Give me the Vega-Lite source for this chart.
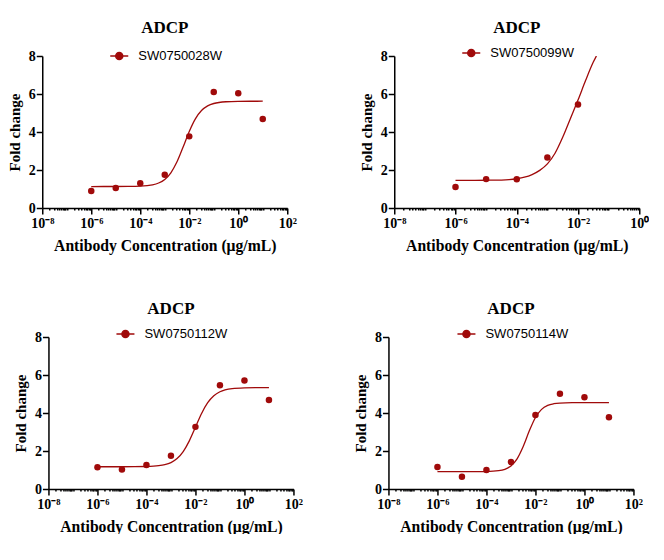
{
  "$schema": "https://vega.github.io/schema/vega-lite/v6.json",
  "description": "ADCP dose-response curves, four antibodies",
  "background": "white",
  "padding": {"left": 7, "top": 19, "right": 0, "bottom": 0},
  "datasets": {
    "pts": [
      {"p": 1, "s": "SW0750028W", "conc": 1e-6, "fold": 0.89},
      {"p": 1, "s": "SW0750028W", "conc": 1e-5, "fold": 1.05},
      {"p": 1, "s": "SW0750028W", "conc": 1e-4, "fold": 1.30},
      {"p": 1, "s": "SW0750028W", "conc": 1e-3, "fold": 1.75},
      {"p": 1, "s": "SW0750028W", "conc": 1e-2, "fold": 3.77},
      {"p": 1, "s": "SW0750028W", "conc": 0.1, "fold": 6.11},
      {"p": 1, "s": "SW0750028W", "conc": 1, "fold": 6.04},
      {"p": 1, "s": "SW0750028W", "conc": 10, "fold": 4.68},
      {"p": 2, "s": "SW0750099W", "conc": 1e-6, "fold": 1.10},
      {"p": 2, "s": "SW0750099W", "conc": 1e-5, "fold": 1.52},
      {"p": 2, "s": "SW0750099W", "conc": 1e-4, "fold": 1.51},
      {"p": 2, "s": "SW0750099W", "conc": 1e-3, "fold": 2.66},
      {"p": 2, "s": "SW0750099W", "conc": 1e-2, "fold": 5.45},
      {"p": 3, "s": "SW0750112W", "conc": 1e-6, "fold": 1.14},
      {"p": 3, "s": "SW0750112W", "conc": 1e-5, "fold": 1.03},
      {"p": 3, "s": "SW0750112W", "conc": 1e-4, "fold": 1.26},
      {"p": 3, "s": "SW0750112W", "conc": 1e-3, "fold": 1.75},
      {"p": 3, "s": "SW0750112W", "conc": 1e-2, "fold": 3.27},
      {"p": 3, "s": "SW0750112W", "conc": 0.1, "fold": 5.46},
      {"p": 3, "s": "SW0750112W", "conc": 1, "fold": 5.71},
      {"p": 3, "s": "SW0750112W", "conc": 10, "fold": 4.69},
      {"p": 4, "s": "SW0750114W", "conc": 1e-6, "fold": 1.16},
      {"p": 4, "s": "SW0750114W", "conc": 1e-5, "fold": 0.65},
      {"p": 4, "s": "SW0750114W", "conc": 1e-4, "fold": 1.00},
      {"p": 4, "s": "SW0750114W", "conc": 1e-3, "fold": 1.42},
      {"p": 4, "s": "SW0750114W", "conc": 1e-2, "fold": 3.89},
      {"p": 4, "s": "SW0750114W", "conc": 0.1, "fold": 5.01},
      {"p": 4, "s": "SW0750114W", "conc": 1, "fold": 4.83},
      {"p": 4, "s": "SW0750114W", "conc": 10, "fold": 3.78}
    ],
    "fit": [
      {"p": 1, "conc": 1e-6, "fold": 1.13},
      {"p": 1, "conc": 1e-5, "fold": 1.131},
      {"p": 1, "conc": 3.162e-5, "fold": 1.135},
      {"p": 1, "conc": 1e-4, "fold": 1.15},
      {"p": 1, "conc": 3.162e-4, "fold": 1.22},
      {"p": 1, "conc": 5.623e-4, "fold": 1.316},
      {"p": 1, "conc": 1e-3, "fold": 1.505},
      {"p": 1, "conc": 1.778e-3, "fold": 1.855},
      {"p": 1, "conc": 3.162e-3, "fold": 2.43},
      {"p": 1, "conc": 5.623e-3, "fold": 3.208},
      {"p": 1, "conc": 1e-2, "fold": 4.027},
      {"p": 1, "conc": 1.778e-2, "fold": 4.693},
      {"p": 1, "conc": 3.162e-2, "fold": 5.128},
      {"p": 1, "conc": 5.623e-2, "fold": 5.373},
      {"p": 1, "conc": 0.1, "fold": 5.5},
      {"p": 1, "conc": 0.3162, "fold": 5.592},
      {"p": 1, "conc": 1, "fold": 5.614},
      {"p": 1, "conc": 3.162, "fold": 5.619},
      {"p": 1, "conc": 10, "fold": 5.62},
      {"p": 2, "conc": 1e-6, "fold": 1.45},
      {"p": 2, "conc": 1e-5, "fold": 1.46},
      {"p": 2, "conc": 3.162e-5, "fold": 1.47},
      {"p": 2, "conc": 5.623e-5, "fold": 1.49},
      {"p": 2, "conc": 1e-4, "fold": 1.54},
      {"p": 2, "conc": 1.778e-4, "fold": 1.62},
      {"p": 2, "conc": 3.162e-4, "fold": 1.76},
      {"p": 2, "conc": 5.623e-4, "fold": 1.98},
      {"p": 2, "conc": 1e-3, "fold": 2.32},
      {"p": 2, "conc": 1.778e-3, "fold": 2.88},
      {"p": 2, "conc": 3.162e-3, "fold": 3.72},
      {"p": 2, "conc": 5.623e-3, "fold": 4.7},
      {"p": 2, "conc": 1e-2, "fold": 5.68},
      {"p": 2, "conc": 1.778e-2, "fold": 6.72},
      {"p": 2, "conc": 3.162e-2, "fold": 7.68},
      {"p": 2, "conc": 3.981e-2, "fold": 8.0},
      {"p": 3, "conc": 1e-6, "fold": 1.17},
      {"p": 3, "conc": 1e-5, "fold": 1.171},
      {"p": 3, "conc": 3.162e-5, "fold": 1.173},
      {"p": 3, "conc": 1e-4, "fold": 1.183},
      {"p": 3, "conc": 3.162e-4, "fold": 1.225},
      {"p": 3, "conc": 5.623e-4, "fold": 1.281},
      {"p": 3, "conc": 1e-3, "fold": 1.392},
      {"p": 3, "conc": 1.778e-3, "fold": 1.602},
      {"p": 3, "conc": 3.162e-3, "fold": 1.969},
      {"p": 3, "conc": 5.623e-3, "fold": 2.535},
      {"p": 3, "conc": 1e-2, "fold": 3.255},
      {"p": 3, "conc": 1.778e-2, "fold": 3.974},
      {"p": 3, "conc": 3.162e-2, "fold": 4.541},
      {"p": 3, "conc": 5.623e-2, "fold": 4.908},
      {"p": 3, "conc": 0.1, "fold": 5.118},
      {"p": 3, "conc": 0.3162, "fold": 5.285},
      {"p": 3, "conc": 1, "fold": 5.327},
      {"p": 3, "conc": 3.162, "fold": 5.337},
      {"p": 3, "conc": 10, "fold": 5.34},
      {"p": 4, "conc": 1e-6, "fold": 0.91},
      {"p": 4, "conc": 1e-5, "fold": 0.91},
      {"p": 4, "conc": 3.162e-5, "fold": 0.911},
      {"p": 4, "conc": 1e-4, "fold": 0.918},
      {"p": 4, "conc": 3.162e-4, "fold": 0.962},
      {"p": 4, "conc": 5.623e-4, "fold": 1.038},
      {"p": 4, "conc": 1e-3, "fold": 1.214},
      {"p": 4, "conc": 1.778e-3, "fold": 1.588},
      {"p": 4, "conc": 3.162e-3, "fold": 2.239},
      {"p": 4, "conc": 5.623e-3, "fold": 3.061},
      {"p": 4, "conc": 1e-2, "fold": 3.765},
      {"p": 4, "conc": 1.778e-2, "fold": 4.19},
      {"p": 4, "conc": 3.162e-2, "fold": 4.398},
      {"p": 4, "conc": 5.623e-2, "fold": 4.488},
      {"p": 4, "conc": 0.1, "fold": 4.525},
      {"p": 4, "conc": 0.3162, "fold": 4.546},
      {"p": 4, "conc": 1, "fold": 4.549},
      {"p": 4, "conc": 10, "fold": 4.55}
    ]
  },
  "center": true,
  "spacing": 47,
  "resolve": {"scale": {"color": "independent"}, "legend": {"color": "independent"}},
  "vconcat": [
    {
      "spacing": 62,
      "resolve": {"scale": {"color": "independent"}, "legend": {"color": "independent"}},
      "hconcat": [
        {
          "title": {"text": "ADCP", "offset": 9},
          "width": 245,
          "height": 152,
          "encoding": {
            "x": {
              "field": "conc", "type": "quantitative",
              "title": "Antibody Concentration (μg/mL)",
              "scale": {"type": "log", "domain": [1e-8, 100], "nice": false},
              "axis": {
                "values": [1e-8, 2e-8, 3e-8, 4e-8, 5e-8, 6e-8, 7e-8, 8e-8, 9e-8, 1e-7, 2e-7, 3e-7, 4e-7, 5e-7, 6e-7, 7e-7, 8e-7, 9e-7, 1e-6, 2e-6, 3e-6, 4e-6, 5e-6, 6e-6, 7e-6, 8e-6, 9e-6, 1e-5, 2e-5, 3e-5, 4e-5, 5e-5, 6e-5, 7e-5, 8e-5, 9e-5, 1e-4, 2e-4, 3e-4, 4e-4, 5e-4, 6e-4, 7e-4, 8e-4, 9e-4, 1e-3, 2e-3, 3e-3, 4e-3, 5e-3, 6e-3, 7e-3, 8e-3, 9e-3, 0.01, 0.02, 0.03, 0.04, 0.05, 0.06, 0.07, 0.08, 0.09, 0.1, 0.2, 0.3, 0.4, 0.5, 0.6, 0.7, 0.8, 0.9, 1, 2, 3, 4, 5, 6, 7, 8, 9, 10, 20, 30, 40, 50, 60, 70, 80, 90, 100],
                "labelExpr": "datum.value == 1e-8 ? '10⁻⁸' : datum.value == 1e-6 ? '10⁻⁶' : datum.value == 1e-4 ? '10⁻⁴' : datum.value == 0.01 ? '10⁻²' : datum.value == 1 ? '10⁰' : datum.value == 100 ? '10²' : ''",
                "tickSize": {"condition": {"test": "indexof([1e-8, 1e-6, 1e-4, 0.01, 1, 100], datum.value) >= 0", "value": 6}, "value": 2}
              }
            },
            "y": {
              "field": "fold", "type": "quantitative", "title": "Fold change",
              "scale": {"domain": [0, 8], "nice": false},
              "axis": {"values": [0, 2, 4, 6, 8]}
            }
          },
          "layer": [
            {
              "data": {"name": "fit"},
              "transform": [{"filter": "datum.p == 1"}],
              "mark": {"type": "line", "color": "#a00a0a", "strokeWidth": 1.3, "interpolate": "monotone"}
            },
            {
              "data": {"name": "pts"},
              "transform": [{"filter": "datum.p == 1"}],
              "mark": {"type": "point", "filled": true, "opacity": 1, "size": 42},
              "encoding": {
                "color": {
                  "field": "s", "type": "nominal",
                  "scale": {"range": ["#a00a0a"]},
                  "legend": {"orient": "none", "legendX": 67, "legendY": -10, "title": null}
                }
              }
            }
          ]
        },
        {
          "title": {"text": "ADCP", "offset": 6},
          "width": 245,
          "height": 152,
          "encoding": {
            "x": {
              "field": "conc", "type": "quantitative",
              "title": "Antibody Concentration (μg/mL)",
              "scale": {"type": "log", "domain": [1e-8, 1], "nice": false},
              "axis": {
                "values": [1e-8, 2e-8, 3e-8, 4e-8, 5e-8, 6e-8, 7e-8, 8e-8, 9e-8, 1e-7, 2e-7, 3e-7, 4e-7, 5e-7, 6e-7, 7e-7, 8e-7, 9e-7, 1e-6, 2e-6, 3e-6, 4e-6, 5e-6, 6e-6, 7e-6, 8e-6, 9e-6, 1e-5, 2e-5, 3e-5, 4e-5, 5e-5, 6e-5, 7e-5, 8e-5, 9e-5, 1e-4, 2e-4, 3e-4, 4e-4, 5e-4, 6e-4, 7e-4, 8e-4, 9e-4, 1e-3, 2e-3, 3e-3, 4e-3, 5e-3, 6e-3, 7e-3, 8e-3, 9e-3, 0.01, 0.02, 0.03, 0.04, 0.05, 0.06, 0.07, 0.08, 0.09, 0.1, 0.2, 0.3, 0.4, 0.5, 0.6, 0.7, 0.8, 0.9, 1],
                "labelExpr": "datum.value == 1e-8 ? '10⁻⁸' : datum.value == 1e-6 ? '10⁻⁶' : datum.value == 1e-4 ? '10⁻⁴' : datum.value == 0.01 ? '10⁻²' : datum.value == 1 ? '10⁰' : ''",
                "tickSize": {"condition": {"test": "indexof([1e-8, 1e-6, 1e-4, 0.01, 1], datum.value) >= 0", "value": 6}, "value": 2}
              }
            },
            "y": {
              "field": "fold", "type": "quantitative", "title": "Fold change",
              "scale": {"domain": [0, 8], "nice": false},
              "axis": {"values": [0, 2, 4, 6, 8]}
            }
          },
          "layer": [
            {
              "data": {"name": "fit"},
              "transform": [{"filter": "datum.p == 2"}],
              "mark": {"type": "line", "color": "#a00a0a", "strokeWidth": 1.3, "interpolate": "monotone", "clip": true}
            },
            {
              "data": {"name": "pts"},
              "transform": [{"filter": "datum.p == 2"}],
              "mark": {"type": "point", "filled": true, "opacity": 1, "size": 42},
              "encoding": {
                "color": {
                  "field": "s", "type": "nominal",
                  "scale": {"range": ["#a00a0a"]},
                  "legend": {"orient": "none", "legendX": 67, "legendY": -13, "title": null}
                }
              }
            }
          ]
        }
      ]
    },
    {
      "spacing": 50,
      "resolve": {"scale": {"color": "independent"}, "legend": {"color": "independent"}},
      "hconcat": [
        {
          "title": {"text": "ADCP", "offset": 6},
          "width": 245,
          "height": 152,
          "encoding": {
            "x": {
              "field": "conc", "type": "quantitative",
              "title": "Antibody Concentration (μg/mL)",
              "scale": {"type": "log", "domain": [1e-8, 100], "nice": false},
              "axis": {
                "values": [1e-8, 2e-8, 3e-8, 4e-8, 5e-8, 6e-8, 7e-8, 8e-8, 9e-8, 1e-7, 2e-7, 3e-7, 4e-7, 5e-7, 6e-7, 7e-7, 8e-7, 9e-7, 1e-6, 2e-6, 3e-6, 4e-6, 5e-6, 6e-6, 7e-6, 8e-6, 9e-6, 1e-5, 2e-5, 3e-5, 4e-5, 5e-5, 6e-5, 7e-5, 8e-5, 9e-5, 1e-4, 2e-4, 3e-4, 4e-4, 5e-4, 6e-4, 7e-4, 8e-4, 9e-4, 1e-3, 2e-3, 3e-3, 4e-3, 5e-3, 6e-3, 7e-3, 8e-3, 9e-3, 0.01, 0.02, 0.03, 0.04, 0.05, 0.06, 0.07, 0.08, 0.09, 0.1, 0.2, 0.3, 0.4, 0.5, 0.6, 0.7, 0.8, 0.9, 1, 2, 3, 4, 5, 6, 7, 8, 9, 10, 20, 30, 40, 50, 60, 70, 80, 90, 100],
                "labelExpr": "datum.value == 1e-8 ? '10⁻⁸' : datum.value == 1e-6 ? '10⁻⁶' : datum.value == 1e-4 ? '10⁻⁴' : datum.value == 0.01 ? '10⁻²' : datum.value == 1 ? '10⁰' : datum.value == 100 ? '10²' : ''",
                "tickSize": {"condition": {"test": "indexof([1e-8, 1e-6, 1e-4, 0.01, 1, 100], datum.value) >= 0", "value": 6}, "value": 2}
              }
            },
            "y": {
              "field": "fold", "type": "quantitative", "title": "Fold change",
              "scale": {"domain": [0, 8], "nice": false},
              "axis": {"values": [0, 2, 4, 6, 8]}
            }
          },
          "layer": [
            {
              "data": {"name": "fit"},
              "transform": [{"filter": "datum.p == 3"}],
              "mark": {"type": "line", "color": "#a00a0a", "strokeWidth": 1.3, "interpolate": "monotone"}
            },
            {
              "data": {"name": "pts"},
              "transform": [{"filter": "datum.p == 3"}],
              "mark": {"type": "point", "filled": true, "opacity": 1, "size": 42},
              "encoding": {
                "color": {
                  "field": "s", "type": "nominal",
                  "scale": {"range": ["#a00a0a"]},
                  "legend": {"orient": "none", "legendX": 67, "legendY": -13, "title": null}
                }
              }
            }
          ]
        },
        {
          "title": {"text": "ADCP", "offset": 6},
          "width": 245,
          "height": 152,
          "encoding": {
            "x": {
              "field": "conc", "type": "quantitative",
              "title": "Antibody Concentration (μg/mL)",
              "scale": {"type": "log", "domain": [1e-8, 100], "nice": false},
              "axis": {
                "values": [1e-8, 2e-8, 3e-8, 4e-8, 5e-8, 6e-8, 7e-8, 8e-8, 9e-8, 1e-7, 2e-7, 3e-7, 4e-7, 5e-7, 6e-7, 7e-7, 8e-7, 9e-7, 1e-6, 2e-6, 3e-6, 4e-6, 5e-6, 6e-6, 7e-6, 8e-6, 9e-6, 1e-5, 2e-5, 3e-5, 4e-5, 5e-5, 6e-5, 7e-5, 8e-5, 9e-5, 1e-4, 2e-4, 3e-4, 4e-4, 5e-4, 6e-4, 7e-4, 8e-4, 9e-4, 1e-3, 2e-3, 3e-3, 4e-3, 5e-3, 6e-3, 7e-3, 8e-3, 9e-3, 0.01, 0.02, 0.03, 0.04, 0.05, 0.06, 0.07, 0.08, 0.09, 0.1, 0.2, 0.3, 0.4, 0.5, 0.6, 0.7, 0.8, 0.9, 1, 2, 3, 4, 5, 6, 7, 8, 9, 10, 20, 30, 40, 50, 60, 70, 80, 90, 100],
                "labelExpr": "datum.value == 1e-8 ? '10⁻⁸' : datum.value == 1e-6 ? '10⁻⁶' : datum.value == 1e-4 ? '10⁻⁴' : datum.value == 0.01 ? '10⁻²' : datum.value == 1 ? '10⁰' : datum.value == 100 ? '10²' : ''",
                "tickSize": {"condition": {"test": "indexof([1e-8, 1e-6, 1e-4, 0.01, 1, 100], datum.value) >= 0", "value": 6}, "value": 2}
              }
            },
            "y": {
              "field": "fold", "type": "quantitative", "title": "Fold change",
              "scale": {"domain": [0, 8], "nice": false},
              "axis": {"values": [0, 2, 4, 6, 8]}
            }
          },
          "layer": [
            {
              "data": {"name": "fit"},
              "transform": [{"filter": "datum.p == 4"}],
              "mark": {"type": "line", "color": "#a00a0a", "strokeWidth": 1.3, "interpolate": "monotone"}
            },
            {
              "data": {"name": "pts"},
              "transform": [{"filter": "datum.p == 4"}],
              "mark": {"type": "point", "filled": true, "opacity": 1, "size": 42},
              "encoding": {
                "color": {
                  "field": "s", "type": "nominal",
                  "scale": {"range": ["#a00a0a"]},
                  "legend": {"orient": "none", "legendX": 68, "legendY": -13, "title": null}
                }
              }
            }
          ]
        }
      ]
    }
  ],
  "config": {
    "view": {"stroke": null},
    "title": {"font": "Liberation Serif, Times New Roman, serif", "fontSize": 17, "fontWeight": "bold", "color": "black", "anchor": "middle"},
    "axis": {
      "grid": false,
      "domainColor": "black", "domainWidth": 1.5,
      "tickColor": "black", "tickWidth": 1.5,
      "labelFont": "Liberation Serif, Times New Roman, serif", "labelFontWeight": "bold", "labelFontSize": 14, "labelColor": "black",
      "titleFont": "Liberation Serif, Times New Roman, serif", "titleFontWeight": "bold", "titleFontSize": 15, "titleColor": "black"
    },
    "axisX": {"labelFlush": false, "labelOverlap": false, "labelPadding": 2, "titlePadding": 8, "titleFontSize": 15.7},
    "axisY": {"tickSize": 6, "labelPadding": 1, "titlePadding": 6},
    "legend": {
      "labelFont": "Liberation Sans, Arial, sans-serif", "labelFontSize": 13, "labelColor": "black",
      "symbolType": "M-1,0L1,0M-0.39,0A0.39,0.39,0,1,1,0.39,0A0.39,0.39,0,1,1,-0.39,0Z",
      "symbolSize": 324, "symbolStrokeWidth": 1.5,
      "symbolStrokeColor": "#a00a0a", "symbolFillColor": "#a00a0a",
      "labelOffset": 9
    }
  }
}
